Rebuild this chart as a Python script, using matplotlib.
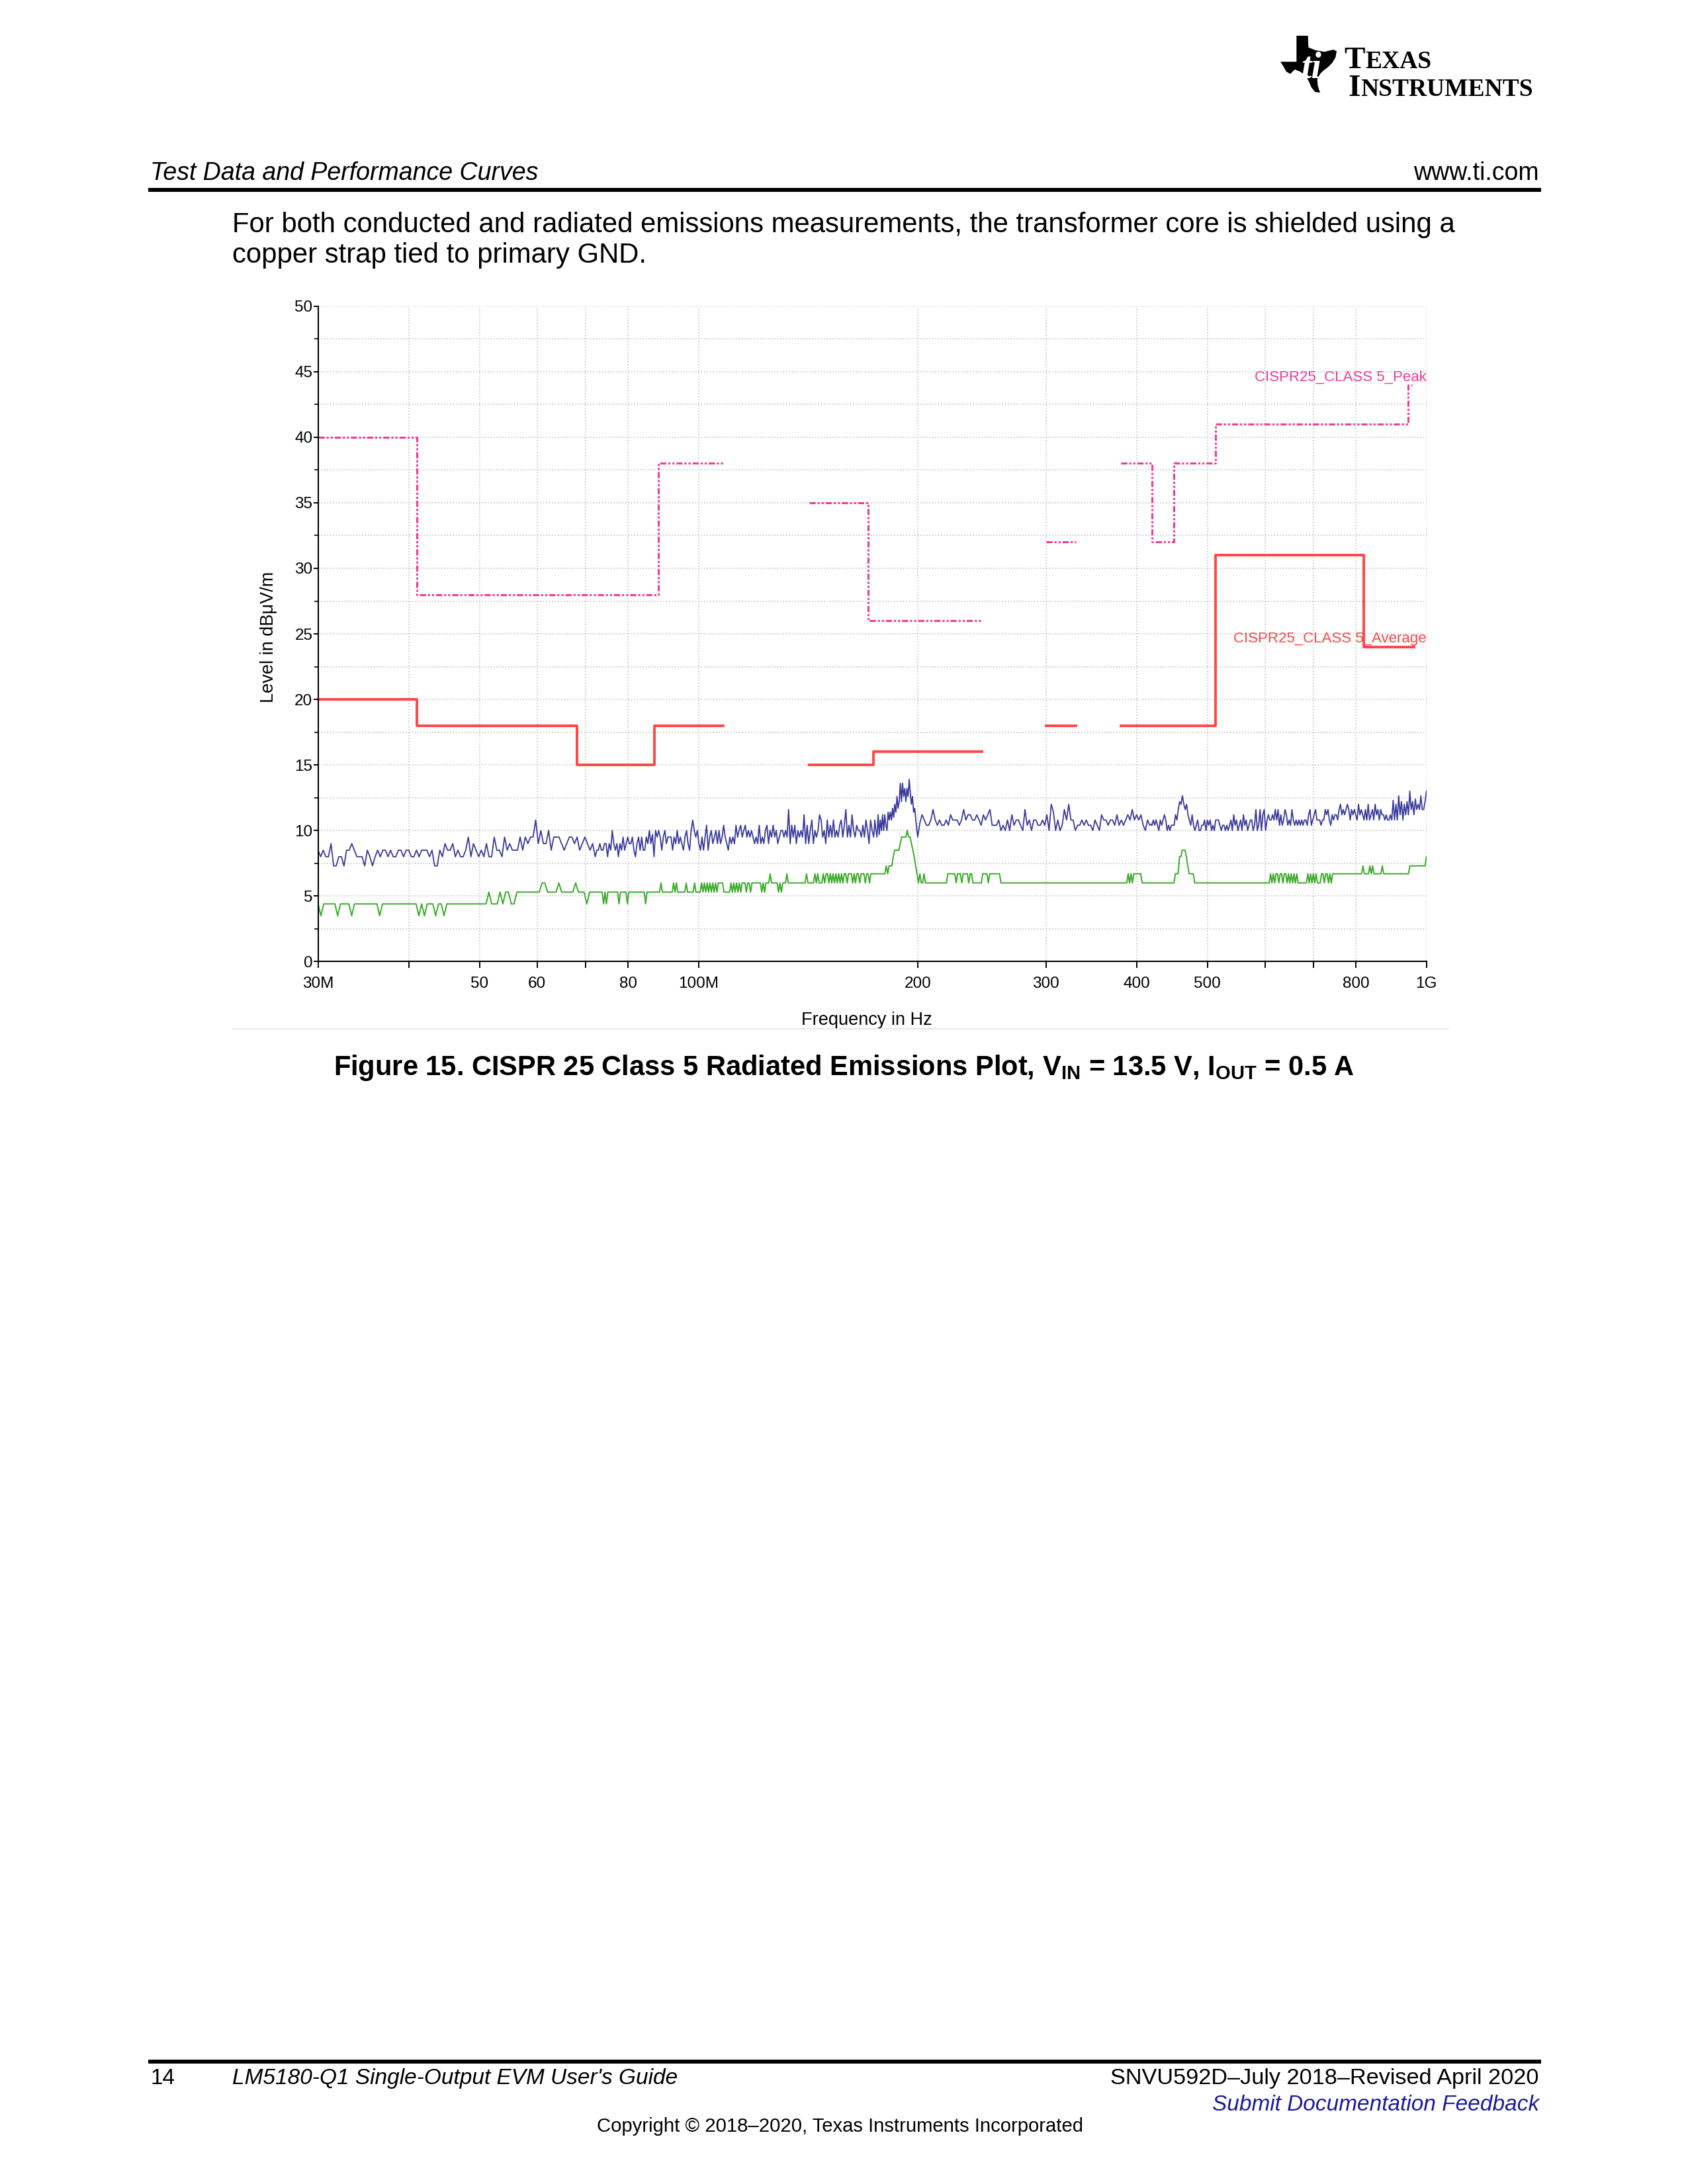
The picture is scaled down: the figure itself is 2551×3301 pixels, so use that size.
import numpy as np
import matplotlib
matplotlib.use("Agg")
import matplotlib.pyplot as plt
from matplotlib.lines import Line2D
from matplotlib.patches import Polygon
from matplotlib.ticker import NullLocator, FixedLocator

plt.rcParams["font.family"] = ["Liberation Sans", "DejaVu Sans"]
plt.rcParams["mathtext.fontset"] = "custom"
plt.rcParams["mathtext.rm"] = "Liberation Sans"
plt.rcParams["mathtext.bf"] = "Liberation Sans:bold"
plt.rcParams["mathtext.default"] = "bf"


def runs(pairs):
    out = []
    for v, n in pairs:
        out += [v] * n
    return out


# ---- limit lines (MHz, dBuV/m), each band drawn as a step segment ----
PEAK_FREQ = [[30, 41, 88, 108], [142, 171, 245], [300, 330], [380, 420, 450, 513, 944, 956]]
PEAK_LEVEL = [[40, 28, 38], [35, 26], [32], [38, 32, 38, 41, 44]]
AVG_FREQ = [[30, 41, 68, 87, 108], [142, 174, 245], [300, 330], [380, 513, 820, 962]]
AVG_LEVEL = [[20, 18, 15, 18], [15, 16], [18], [18, 31, 24]]

# ---- measured peak trace (blue), per sweep band ----
BLUE_BANDS = [(30, 72.1), (72.1, 174), (174, 199.5), (200, 419.6), (419.6, 1000)]
BLUE_1 = [8.5, 8.0, 8.5, 8.0, 8.0, 9.0, 7.3, 7.3, 8.0, 8.0, 7.3, 8.5, 8.5, 9.0, 8.5, 8.0,
          8.0, 8.0, 7.3, 8.5, 8.0, 7.3, 8.0, 8.5, 8.0, 8.5, 8.5, 8.0, 8.5, 8.0, 8.0, 8.5,
          8.5, 8.0, 8.5, 8.5, 8.0, 8.0, 8.5, 8.0, 8.5, 8.5, 8.5, 8.0, 8.5, 7.3, 7.3, 8.5,
          8.0, 9.0, 8.5, 8.5, 9.0, 8.0, 8.5, 8.0, 8.0, 8.5, 9.5, 8.0, 9.0, 8.5, 8.0, 8.5,
          8.0, 9.0, 8.0, 8.0, 9.5, 8.5, 8.5, 8.0, 9.5, 8.5, 9.0, 8.5, 8.5, 8.5, 9.5, 8.5,
          9.5, 9.0, 9.5, 9.5, 10.8, 9.0, 10.0, 9.0, 9.0, 10.0, 8.5, 9.5, 9.5, 9.5, 9.0, 8.5,
          9.0, 9.5, 9.5, 9.0, 9.5, 8.5, 9.0, 9.5, 9.0, 8.5, 9.0, 8.0]
BLUE_2 = [8.0, 8.5, 8.5, 9.0, 8.5, 8.5, 9.0, 9.0, 8.0, 9.0, 8.5, 10.0, 9.0, 8.5, 9.0, 8.0,
          9.0, 8.5, 9.5, 8.5, 9.0, 9.5, 9.0, 9.0, 9.5, 8.5, 8.0, 9.0, 9.5, 8.5, 9.5, 8.5,
          8.5, 9.5, 9.0, 10.0, 9.0, 9.7, 8.0, 10.0, 9.5, 10.0, 9.5, 8.5, 9.5, 10.0, 9.0, 9.5,
          9.5, 9.5, 8.5, 9.5, 9.0, 10.0, 9.0, 9.5, 9.0, 8.5, 9.5, 10.0, 9.0, 8.5, 10.0, 10.8,
          10.0, 9.5, 10.0, 9.0, 8.5, 9.5, 8.5, 9.5, 10.4, 8.5, 9.5, 10.0, 9.0, 9.5, 10.0, 9.0,
          10.0, 9.0, 9.5, 10.4, 9.5, 9.0, 8.5, 9.5, 9.0, 9.5, 9.0, 10.4, 9.5, 10.0, 10.4, 9.5,
          10.0, 10.4, 9.5, 10.0, 9.5, 10.0, 9.5, 9.0, 9.5, 9.0, 10.4, 9.0, 9.5, 9.0, 10.0, 10.4,
          9.0, 10.0, 9.5, 10.4, 9.5, 10.0, 9.0, 9.5, 10.0, 10.0, 9.5, 10.0, 9.5, 11.6, 9.0, 10.4,
          9.5, 10.4, 9.0, 10.0, 9.5, 10.0, 9.5, 11.2, 9.0, 10.4, 9.0, 10.0, 10.8, 9.0, 10.0, 9.5,
          10.0, 11.2, 10.8, 9.5, 10.0, 9.0, 10.8, 9.5, 10.4, 9.5, 10.8, 9.5, 10.0, 9.5, 10.4, 10.8,
          9.5, 10.4, 11.6, 9.5, 10.4, 9.5, 11.2, 10.0, 9.5, 10.4, 10.0, 10.0, 9.5, 10.4, 9.5, 10.8,
          10.0, 9.0, 10.8, 10.0, 9.5]
BLUE_3 = [9.5, 10.8, 10.0, 9.5, 11.2, 9.7, 10.8, 10.0, 11.2, 10.0, 11.2, 10.4, 10.0, 11.4,
          10.8, 11.4, 10.8, 11.7, 11.0, 12.0, 11.4, 12.6, 11.7, 12.2, 13.6, 12.2, 13.6, 12.6,
          13.2, 12.2, 13.2, 12.6, 13.9, 12.9, 12.0, 12.6, 11.4, 11.7, 10.8, 10.0]
BLUE_4 = [9.5, 10.6, 11.2, 10.8, 10.4, 10.4, 10.8, 11.6, 10.8, 10.4, 10.8, 10.4, 10.4, 10.8,
          10.4, 11.2, 10.8, 10.8, 10.8, 10.4, 10.8, 11.6, 10.8, 11.2, 11.2, 10.8, 10.8, 11.2,
          10.8, 10.4, 11.2, 10.8, 11.2, 11.6, 10.4, 10.4, 10.4, 10.8, 10.0, 10.4, 10.0, 10.8,
          10.0, 11.2, 10.4, 10.8, 10.8, 10.4, 10.0, 11.6, 10.4, 10.8, 10.0, 10.8, 10.8, 10.4,
          10.4, 10.8, 10.4, 11.2, 10.0, 12.0, 11.4, 10.0, 10.8, 10.0, 10.4, 11.6, 10.8, 12.0,
          10.8, 10.8, 10.0, 10.4, 10.4, 10.8, 10.4, 10.8, 10.4, 10.4, 10.0, 10.8, 10.4, 10.0,
          11.2, 10.8, 10.8, 10.4, 10.8, 10.8, 10.4, 11.2, 10.4, 10.8, 10.4, 10.8, 11.2, 10.8,
          11.6, 10.8, 11.2, 10.8, 11.2, 10.4, 10.0, 10.8, 10.4, 10.5]
BLUE_5 = [10.4, 10.8, 10.4, 10.8, 10.4, 10.0, 10.8, 10.4, 10.8, 11.2, 10.8, 10.0, 10.4, 10.0,
          10.4, 10.4, 10.4, 11.2, 10.8, 11.6, 12.2, 12.0, 12.65, 12.0, 11.6, 12.0, 11.2, 10.8,
          10.4, 11.2, 10.4, 10.0, 10.4, 10.8, 10.0, 10.0, 10.4, 10.4, 10.8, 10.0, 10.8, 10.4,
          10.8, 10.0, 10.4, 10.0, 10.8, 10.8, 10.8, 10.4, 10.0, 10.4, 10.4, 10.0, 10.4, 10.0,
          10.4, 10.8, 10.0, 11.2, 10.4, 10.8, 10.0, 10.4, 10.8, 10.0, 11.2, 10.4, 10.8, 10.0,
          10.4, 10.8, 10.8, 10.0, 10.4, 11.6, 10.0, 10.4, 11.6, 10.0, 11.2, 11.6, 10.0, 10.8,
          11.2, 10.8, 10.8, 11.2, 10.8, 11.6, 10.8, 11.6, 10.4, 11.2, 10.4, 10.8, 11.6, 11.2,
          10.4, 10.8, 10.4, 11.6, 10.8, 10.4, 10.8, 10.4, 10.8, 10.4, 10.8, 10.4, 10.8, 10.8,
          10.4, 11.2, 11.6, 10.4, 10.8, 11.2, 11.6, 10.8, 10.8, 10.8, 10.4, 10.8, 10.8, 11.6,
          11.2, 11.6, 10.8, 10.4, 11.2, 10.8, 11.2, 11.2, 10.8, 11.6, 12.0, 11.2, 11.6, 11.2,
          11.6, 12.0, 11.6, 10.8, 11.6, 11.2, 11.6, 11.2, 10.8, 12.0, 11.2, 11.6, 11.2, 10.8,
          11.6, 10.8, 12.0, 10.8, 11.2, 11.6, 10.8, 12.0, 11.2, 11.6, 10.8, 11.6, 11.2, 11.2,
          10.8, 11.2, 10.8, 10.8, 11.2, 10.8, 12.3, 10.8, 12.0, 10.8, 12.65, 11.2, 12.2, 10.8,
          12.0, 11.2, 12.2, 11.2, 13.0, 11.6, 12.2, 11.2, 12.4, 11.6, 12.0, 11.6, 12.65, 11.6,
          11.6, 12.2, 13.0]

# ---- measured average trace (green), per sweep band, as (level, samples) runs ----
GREEN_BANDS = [(30, 72.1), (72.1, 174), (174, 419.6), (419.6, 1000)]
GREEN_1 = runs([(4.4, 1), (3.5, 1), (4.4, 5), (3.5, 1), (4.4, 4), (3.5, 1), (4.4, 9), (3.5, 1),
                (4.4, 13), (3.5, 1), (4.4, 1), (3.5, 1), (4.4, 3), (3.5, 1), (4.4, 2), (3.5, 1),
                (4.4, 15), (5.3, 1), (4.4, 3), (5.3, 1), (4.4, 1), (5.3, 2), (4.4, 2), (5.3, 9),
                (6.0, 2), (5.3, 4), (6.0, 1), (5.3, 5), (6.0, 1), (5.3, 3), (4.4, 1), (5.3, 3)])
GREEN_2 = runs([(5.3, 6), (4.4, 1), (5.3, 1), (4.4, 1), (5.3, 8), (4.4, 1), (5.3, 5), (4.4, 1),
                (5.3, 12), (4.4, 1), (5.3, 10), (6.0, 1), (5.3, 8), (6.0, 1), (5.3, 1), (6.0, 1),
                (5.3, 6), (6.0, 1), (5.3, 5), (6.0, 1), (5.3, 4),
                (6.0, 1), (5.3, 1), (6.0, 1), (5.3, 1), (6.0, 1), (5.3, 1), (6.0, 1), (5.3, 1),
                (6.0, 1), (5.3, 1), (6.0, 1), (5.3, 1), (6.0, 4), (5.3, 5),
                (6.0, 1), (5.3, 1), (6.0, 1), (5.3, 1), (6.0, 1), (5.3, 1), (6.0, 1), (5.3, 1),
                (6.0, 3), (5.3, 1), (6.0, 2), (5.3, 1), (6.0, 7), (5.3, 1), (6.0, 1), (5.3, 1),
                (6.0, 3), (6.7, 1), (6.0, 5), (5.3, 1), (6.0, 1), (5.3, 1), (6.0, 3), (6.7, 1),
                (6.0, 13), (6.7, 1), (6.0, 5), (6.7, 1), (6.0, 1), (6.7, 1), (6.0, 3), (6.7, 1),
                (6.0, 1), (6.7, 2),
                (6.0, 1), (6.7, 1), (6.0, 1), (6.7, 1), (6.0, 1), (6.7, 1), (6.0, 1), (6.7, 1),
                (6.0, 1), (6.7, 1), (6.0, 1), (6.7, 2), (6.0, 1), (6.7, 3), (6.0, 1), (6.7, 1),
                (6.0, 1), (6.7, 2), (6.0, 1), (6.7, 3), (6.0, 1), (6.7, 2), (6.0, 1), (6.7, 3)])
GREEN_3 = runs([(6.7, 9), (7.3, 1), (6.7, 1), (7.3, 3), (8.0, 1), (8.5, 4), (9.0, 1), (9.5, 4),
                (10.0, 1), (9.5, 2), (9.0, 1), (8.5, 1), (8.0, 1), (7.3, 1), (6.7, 1), (6.0, 1),
                (6.7, 1), (6.0, 2), (6.7, 1), (6.0, 16), (6.7, 6), (6.0, 1), (6.7, 3), (6.0, 1),
                (6.7, 4), (6.0, 1), (6.7, 2), (6.0, 7), (6.7, 4), (6.0, 1), (6.7, 8), (6.0, 91),
                (6.7, 1), (6.0, 1), (6.7, 1), (6.0, 1), (6.7, 6), (6.0, 8)])
GREEN_4 = runs([(6.0, 17), (6.7, 3), (8.0, 2), (8.5, 3), (8.0, 1), (7.3, 1), (6.7, 4), (6.0, 55),
                (6.7, 1), (6.0, 1), (6.7, 1), (6.0, 1), (6.7, 2), (6.0, 1), (6.7, 2), (6.0, 1),
                (6.7, 2), (6.0, 1), (6.7, 1), (6.0, 1), (6.7, 1), (6.0, 1), (6.7, 1), (6.0, 1),
                (6.7, 1), (6.0, 7), (6.7, 1), (6.0, 1), (6.7, 1), (6.0, 1), (6.7, 1), (6.0, 1),
                (6.7, 1), (6.0, 3), (6.7, 2), (6.0, 1), (6.7, 2), (6.0, 1), (6.7, 1), (6.0, 1),
                (6.7, 22), (7.3, 1), (6.7, 4), (7.3, 1), (6.7, 1), (7.3, 1), (6.7, 6), (7.3, 1),
                (6.7, 19), (7.3, 12), (8.0, 1)])

XTICKS_MHZ = [30, 40, 50, 60, 70, 80, 100, 200, 300, 400, 500, 600, 700, 800, 1000]
XTICK_LABELS = ["30M", "", "50", "60", "", "80", "100M", "200", "300", "400", "500", "", "", "800", "1G"]

PINK = "#F03C96"
RED = "#FF4646"
BLUE = "#3A3A9C"
GREEN = "#3AAA28"


def band_trace(bands, chunks):
    xs, ys = [], []
    for (lo, hi), vals in zip(bands, chunks):
        xs.append(np.geomspace(lo, hi, len(vals)) * 1e6)
        ys.append(np.asarray(vals, dtype=float))
    return np.concatenate(xs), np.concatenate(ys)


W, H = 2551, 3301
fig = plt.figure(figsize=(W / 100, H / 100), dpi=100)


def fx(px):
    return px / W


def fy(py):
    return 1 - py / H


# ---- page furniture ----
fig.text(fx(227), fy(272), "Test Data and Performance Curves", fontsize=27, style="italic", va="baseline")
fig.text(fx(2326), fy(272), "www.ti.com", fontsize=27, ha="right", va="baseline")
fig.add_artist(Line2D([fx(227), fx(2326)], [fy(287), fy(287)], color="black", lw=4.3))
fig.text(fx(351), fy(351), "For both conducted and radiated emissions measurements, the transformer core is shielded using a",
         fontsize=30.2, va="baseline")
fig.text(fx(351), fy(397), "copper strap tied to primary GND.", fontsize=30.2, va="baseline")

fig.text(fx(1275), fy(1625),
         r"Figure 15. CISPR 25 Class 5 Radiated Emissions Plot, V$_{IN}$ = 13.5 V, I$_{OUT}$ = 0.5 A",
         fontsize=30, weight="bold", ha="center", va="baseline")
fig.add_artist(Line2D([fx(351), fx(2189)], [fy(1555), fy(1555)], color="#e4e4e4", lw=1.2))

fig.add_artist(Line2D([fx(227), fx(2326)], [fy(3116), fy(3116)], color="black", lw=4.3))
fig.text(fx(227), fy(3150), "14", fontsize=24, va="baseline")
fig.text(fx(351), fy(3150), "LM5180-Q1 Single-Output EVM User's Guide", fontsize=24, style="italic", va="baseline")
fig.text(fx(2326), fy(3150), "SNVU592D\u2013July 2018\u2013Revised April 2020", fontsize=24.7, ha="right", va="baseline")
fig.text(fx(2326), fy(3190), "Submit Documentation Feedback", fontsize=24, style="italic", color="#1a1a9c",
         ha="right", va="baseline")
fig.text(fx(1270), fy(3222), "Copyright \u00a9 2018\u20132020, Texas Instruments Incorporated", fontsize=21.1,
         ha="center", va="baseline")

# TI logo (rough)
logo = [(178, 42), (230, 42), (232, 95), (265, 108), (305, 115), (345, 105), (360, 112), (355, 140),
        (340, 165), (320, 185), (300, 200), (285, 215), (272, 240), (275, 270), (285, 300), (262, 297),
        (245, 275), (232, 245), (215, 220), (195, 205), (170, 195), (150, 215), (132, 205), (118, 180),
        (105, 160), (178, 160)]
fig.add_artist(Polygon([(fx(1900 + a / 3), fy(40 + b / 3)) for a, b in logo], closed=True,
                       facecolor="black", edgecolor="none"))
fig.text(fx(1982), fy(118), "ti", fontsize=40, color="white", weight="bold", style="italic",
         family="Liberation Serif", ha="center", va="baseline")


def small_caps(x, y, word, big, small):
    r = fig.canvas.get_renderer()
    t = fig.text(fx(x), fy(y), word[0], fontsize=big, family="Liberation Serif", weight="bold",
                 va="baseline")
    bb = t.get_window_extent(renderer=r)
    fig.text(fx(bb.x1 + 1), fy(y), word[1:], fontsize=small, family="Liberation Serif", weight="bold",
             va="baseline")


small_caps(2031, 103, "TEXAS", 34, 27)
small_caps(2037, 145, "INSTRUMENTS", 34, 27)

# ---- chart ----
ax = fig.add_axes([fx(480.7), fy(1453.4), (2155.7 - 480.7) / W, (1453.4 - 462.7) / H])
ax.set_xscale("log")
ax.set_xlim(30e6, 1e9)
ax.set_ylim(0, 50)

ax.xaxis.set_major_locator(FixedLocator([f * 1e6 for f in XTICKS_MHZ]))
ax.set_xticklabels(XTICK_LABELS)
ax.xaxis.set_minor_locator(NullLocator())
ax.set_yticks(np.arange(0, 51, 5))
ax.set_yticks(np.arange(2.5, 50, 5), minor=True)
ax.tick_params(axis="x", which="major", length=7, width=1.4, labelsize=17.5, pad=9)
ax.tick_params(axis="y", which="major", length=5, width=1.4, labelsize=17.5, pad=1)
ax.tick_params(axis="y", which="minor", length=4, width=1.2)
ax.grid(True, axis="y", which="both", color="#c4c4c4", ls=":", lw=1.2)
ax.grid(True, axis="x", which="major", color="#c4c4c4", ls=":", lw=1.2)
ax.set_axisbelow(True)
for s in ("top", "right"):
    ax.spines[s].set_visible(False)
for s in ("left", "bottom"):
    ax.spines[s].set_linewidth(1.5)

bx, by = band_trace(BLUE_BANDS, [BLUE_1, BLUE_2, BLUE_3, BLUE_4, BLUE_5])
ax.plot(bx, by, color=BLUE, lw=1.3)
gx, gy = band_trace(GREEN_BANDS, [GREEN_1, GREEN_2, GREEN_3, GREEN_4])
ax.plot(gx, gy, color=GREEN, lw=1.4)

for fr, lv in zip(AVG_FREQ, AVG_LEVEL):
    ax.plot(np.array(fr) * 1e6, lv + [lv[-1]], drawstyle="steps-post", color=RED, lw=2.8)
for fr, lv in zip(PEAK_FREQ, PEAK_LEVEL):
    ax.plot(np.array(fr) * 1e6, lv + [lv[-1]], drawstyle="steps-post", color=PINK, lw=2.2,
            ls=(0, (3, 1, 1, 1, 1, 1)))

ax.text(1e9, 44.55, "CISPR25_CLASS 5_Peak", color=PINK, fontsize=16, ha="right", va="center")
ax.text(1e9, 24.6, "CISPR25_CLASS 5_Average", color=RED, fontsize=16, ha="right", va="center")

ax.set_xlabel("Frequency in Hz", fontsize=19.5)
ax.set_ylabel("Level in dB\u03bcV/m", fontsize=19.5)
ax.xaxis.set_label_coords(0.495, -0.076)
ax.yaxis.set_label_coords(-0.037, 0.495)

fig.savefig("out.png", dpi=100)
